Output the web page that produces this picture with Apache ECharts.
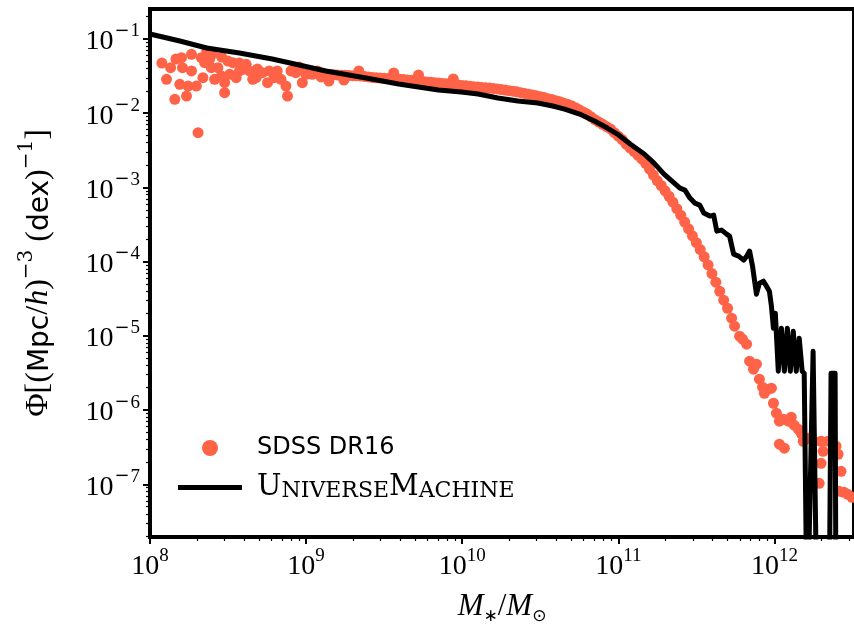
<!DOCTYPE html>
<html><head><meta charset="utf-8">
<script src="https://cdn.jsdelivr.net/npm/echarts@6/dist/echarts.min.js"></script>
<style>html,body{margin:0;padding:0;background:#fff}#chart{width:854px;height:631px}</style>
</head><body><div id="chart"></div>
<script>
// log10(M*/Msun) and log10(Phi)
const sdssLogMass = [
8.076,8.106,8.132,8.159,8.166,8.191,8.202,8.208,8.234,8.244,8.266,8.266,8.297,8.308,8.329,8.339,8.350,8.363,8.382,8.393,
8.401,8.414,8.435,8.457,8.459,8.478,8.478,8.499,8.510,8.531,8.552,8.573,8.573,8.594,8.616,8.637,8.658,8.680,8.688,8.721,
8.753,8.764,8.796,8.815,8.839,8.871,8.881,8.903,8.934,8.955,8.976,8.998,9.040,9.072,9.096,
9.146,9.242,9.338,9.561,9.720,9.943,
9.100,9.125,9.150,9.175,9.200,9.225,9.250,9.275,9.300,9.325,9.350,9.375,9.400,9.425,9.450,9.475,9.500,9.525,9.550,9.575,
9.600,9.625,9.650,9.675,9.700,9.725,9.750,9.775,9.800,9.825,9.850,9.875,9.900,9.925,9.950,9.975,10.000,10.025,10.050,10.075,
10.100,10.125,10.150,10.175,10.200,10.225,10.250,10.275,10.300,10.325,10.350,10.375,10.400,10.425,10.450,10.475,10.500,10.525,10.550,10.575,
10.600,10.625,10.650,10.675,10.700,10.725,10.750,10.775,10.800,10.825,10.850,10.875,10.900,10.925,10.950,10.975,11.000,11.025,11.050,11.075,
11.100,11.125,11.150,11.175,11.200,11.225,11.250,11.275,11.300,11.325,11.350,11.375,11.400,11.425,11.450,11.475,11.500,11.525,11.550,11.575,
11.600,11.625,11.650,11.675,11.700,
11.726,11.745,11.777,11.796,11.822,11.841,11.866,11.885,11.904,11.924,11.936,11.962,11.981,11.994,12.013,12.032,12.057,12.032,12.064,12.089,
12.108,12.127,12.153,12.172,12.185,12.217,12.255,12.299,12.312,12.299,12.287,12.344,12.395,12.408,12.427,12.414,12.446,12.471,12.497
];
const sdssLogPhi = [
-1.324,-1.543,-1.387,-1.813,-1.270,-1.611,-1.252,-1.387,-1.769,-1.634,-1.206,-1.431,-1.634,-2.263,-1.252,-1.522,-1.320,-1.162,-1.274,-1.387,
-1.202,-1.543,-1.387,-1.499,-1.243,-1.724,-1.589,-1.297,-1.476,-1.320,-1.522,-1.431,-1.324,-1.409,-1.341,-1.431,-1.543,-1.522,-1.404,-1.454,
-1.589,-1.431,-1.522,-1.431,-1.543,-1.634,-1.769,-1.431,-1.454,-1.378,-1.589,-1.476,-1.476,-1.431,-1.512,
-1.566,-1.553,-1.431,-1.458,-1.485,-1.539,
-1.473,-1.476,-1.479,-1.481,-1.484,-1.487,-1.489,-1.492,-1.495,-1.497,-1.500,-1.504,-1.511,-1.518,-1.523,-1.527,-1.530,-1.533,-1.535,-1.538,
-1.541,-1.546,-1.551,-1.557,-1.562,-1.568,-1.573,-1.578,-1.584,-1.589,-1.593,-1.599,-1.604,-1.609,-1.615,-1.620,-1.626,-1.631,-1.636,-1.642,
-1.647,-1.653,-1.658,-1.662,-1.667,-1.673,-1.681,-1.689,-1.697,-1.704,-1.712,-1.723,-1.733,-1.743,-1.754,-1.764,-1.777,-1.790,-1.804,-1.817,
-1.831,-1.847,-1.864,-1.880,-1.898,-1.925,-1.955,-1.983,-2.011,-2.049,-2.087,-2.119,-2.150,-2.181,-2.212,-2.262,-2.309,-2.355,-2.418,-2.466,
-2.514,-2.564,-2.614,-2.675,-2.753,-2.834,-2.911,-2.974,-3.045,-3.119,-3.199,-3.287,-3.374,-3.466,-3.558,-3.652,-3.745,-3.837,-3.934,-4.044,
-4.160,-4.276,-4.400,-4.519,-4.628,
-4.762,-4.870,-5.004,-5.045,-5.112,-5.341,-5.449,-5.382,-5.584,-5.692,-5.773,-5.719,-5.705,-5.908,-6.042,-6.150,-6.123,-6.460,-6.514,-6.150,
-6.096,-6.204,-6.258,-6.312,-6.420,-6.380,-6.420,-6.420,-6.555,-6.717,-6.986,-6.420,-6.487,-6.595,-6.825,-7.094,-7.108,-7.135,-7.175
];
// UniverseMachine curve; -9 marks empty bins (Phi = 0, below the plot)
const umLogMass = [
8.000,8.191,8.363,8.573,8.783,8.955,9.127,9.274,9.420,9.592,9.847,9.994,10.102,10.229,10.357,10.484,10.580,10.656,10.752,10.847,
10.930,10.994,11.076,11.166,11.229,11.293,11.344,11.395,11.427,11.459,11.490,11.522,11.548,11.586,11.611,11.631,11.662,11.694,11.713,11.739,
11.771,11.803,11.822,11.841,11.860,11.885,11.904,11.930,11.949,11.968,11.981,11.994,12.006,12.025,12.045,12.064,12.083,12.102,12.121,12.140,
12.159,12.178,12.191,12.210,12.248,12.274,12.350,12.363,12.389,12.395,12.550
];
const umLogPhi = [
-0.933,-1.027,-1.121,-1.189,-1.270,-1.351,-1.431,-1.485,-1.539,-1.607,-1.688,-1.715,-1.742,-1.795,-1.836,-1.863,-1.903,-1.944,-2.011,-2.106,
-2.200,-2.281,-2.416,-2.550,-2.672,-2.820,-2.915,-3.009,-3.036,-3.144,-3.211,-3.238,-3.346,-3.386,-3.373,-3.589,-3.575,-3.629,-3.656,-3.899,
-3.926,-3.980,-3.926,-3.858,-4.061,-4.438,-4.290,-4.263,-4.330,-4.398,-4.600,-4.897,-4.694,-5.476,-4.897,-5.476,-4.897,-5.476,-4.937,-5.476,
-5.031,-5.476,-5.503,-9,-5.207,-9,-9,-5.503,-5.503,-9,-9
];
const xMajorTicks = [8, 9, 10, 11, 12];
const yMajorTicks = [-7, -6, -5, -4, -3, -2, -1];

function minorTicks(lo, hi) {
  const out = [];
  for (let k = lo; k < hi; k++) for (let m = 2; m <= 9; m++) out.push(k + Math.log10(m));
  return out;
}
const X_MIN = 8, X_MAX = 12.51, Y_MIN = -7.71, Y_MAX = -0.596;
const serif = 'Liberation Serif';
const dserif = 'DejaVu Serif';
const tickRich = {
  b: { fontFamily: serif, fontSize: 28, lineHeight: 34, verticalAlign: 'bottom', color: '#000' },
  s: { fontFamily: serif, fontSize: 19, lineHeight: 19, verticalAlign: 'top', color: '#000' },
  m: { fontFamily: dserif, fontSize: 18, lineHeight: 19, verticalAlign: 'top', color: '#000', padding: [0, 1, 0, 1] }
};

const chart = echarts.init(document.getElementById('chart'), null, { renderer: 'canvas' });
const option = {
  animation: false,
  backgroundColor: '#fff',
  grid: { left: 150, right: -4, top: 9, bottom: 94, show: true, borderColor: '#000', borderWidth: 4, backgroundColor: 'transparent' },
  legend: {
    orient: 'vertical', left: 173, top: 431, itemWidth: 64, itemHeight: 16, itemGap: 13,
    data: [
      { name: 'SDSS DR16', icon: 'circle' },
      { name: 'UniverseMachine', icon: 'path://M0,0L64,0L64,5L0,5Z' }
    ],
    formatter: n => n === 'SDSS DR16' ? '{sans|SDSS DR16}' : '{cap0|U}{sc|NIVERSE}{cap|M}{sc|ACHINE}',
    textStyle: { color: '#000', rich: {
      sans: { fontFamily: 'DejaVu Sans', fontSize: 24, lineHeight: 30, color: '#000', padding: [0, 0, 0, 10] },
      cap0: { fontFamily: dserif, fontSize: 29, lineHeight: 30, color: '#000', padding: [0, 0, 0, 10] },
      cap: { fontFamily: dserif, fontSize: 29, lineHeight: 30, color: '#000' },
      sc: { fontFamily: dserif, fontSize: 22, lineHeight: 30, verticalAlign: 'bottom', color: '#000' }
    } }
  },
  xAxis: [{
    type: 'value', min: X_MIN, max: X_MAX, position: 'bottom',
    axisLine: { show: false },
    axisTick: { show: true, inside: false, length: 7, customValues: xMajorTicks, lineStyle: { color: '#000', width: 2 } },
    axisLabel: { customValues: xMajorTicks, margin: 10, formatter: v => '{b|10}{s|' + v + '}', rich: tickRich },
    splitLine: { show: false },
    name: '{i|M}{sub|∗}{r|/}{i|M}{sub|⊙}', nameLocation: 'middle', nameGap: 54,
    nameTextStyle: { rich: {
      i: { fontFamily: serif, fontStyle: 'italic', fontSize: 31, lineHeight: 34, verticalAlign: 'top', color: '#000' },
      r: { fontFamily: serif, fontSize: 31, lineHeight: 34, verticalAlign: 'top', color: '#000' },
      sub: { fontFamily: 'DejaVu Sans', fontSize: 17, lineHeight: 17, verticalAlign: 'bottom', color: '#000' }
    } }
  }, {
    type: 'value', min: X_MIN, max: X_MAX, position: 'bottom',
    axisLine: { show: false },
    axisTick: { show: true, inside: false, length: 4, customValues: minorTicks(8, 13), lineStyle: { color: '#000', width: 1.2 } },
    axisLabel: { show: false }, splitLine: { show: false }
  }],
  yAxis: [{
    type: 'value', min: Y_MIN, max: Y_MAX, position: 'left',
    axisLine: { show: false },
    axisTick: { show: true, inside: false, length: 7, customValues: yMajorTicks, lineStyle: { color: '#000', width: 2 } },
    axisLabel: { customValues: yMajorTicks, margin: 10, formatter: v => '{b|10}{m|−}{s|' + (-v) + '}', rich: tickRich },
    splitLine: { show: false },
    name: '{r|Φ[(}{s|Mpc}{r|/}{i|h}{r|)}{sup|−3}{r| (}{s|dex}{r|)}{sup|−1}{r|]}',
    nameLocation: 'middle', nameRotate: 90, nameGap: 95,
    nameTextStyle: { rich: {
      r: { fontFamily: serif, fontSize: 32, lineHeight: 38, verticalAlign: 'bottom', color: '#000' },
      i: { fontFamily: serif, fontStyle: 'italic', fontSize: 32, lineHeight: 38, verticalAlign: 'bottom', color: '#000' },
      s: { fontFamily: 'DejaVu Sans', fontSize: 28, lineHeight: 38, verticalAlign: 'bottom', color: '#000' },
      sup: { fontFamily: dserif, fontSize: 20, lineHeight: 22, verticalAlign: 'top', color: '#000' }
    } }
  }, {
    type: 'value', min: Y_MIN, max: Y_MAX, position: 'left',
    axisLine: { show: false },
    axisTick: { show: true, inside: false, length: 4, customValues: minorTicks(-8, 0), lineStyle: { color: '#000', width: 1.2 } },
    axisLabel: { show: false }, splitLine: { show: false }
  }],
  series: [{
    name: 'SDSS DR16', type: 'scatter', xAxisIndex: 0, yAxisIndex: 0,
    symbol: 'circle', symbolSize: 11, itemStyle: { color: '#ff6347', opacity: 1 },
    data: sdssLogMass.map((m, i) => [m, sdssLogPhi[i]]), z: 2
  }, {
    name: 'UniverseMachine', type: 'line', xAxisIndex: 0, yAxisIndex: 0,
    showSymbol: false, symbol: 'none', clip: true,
    lineStyle: { color: '#000', width: 5, join: 'round' }, itemStyle: { color: '#000' },
    data: umLogMass.map((m, i) => [m, umLogPhi[i]]), z: 3
  }]
};
chart.setOption(option);
</script></body></html>
